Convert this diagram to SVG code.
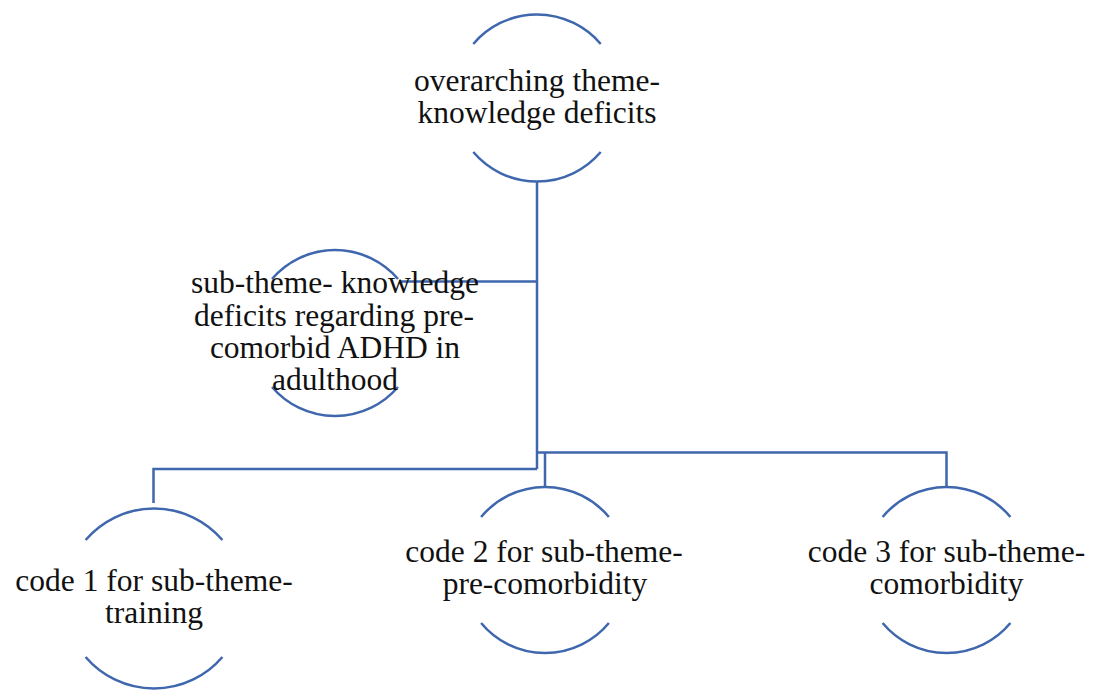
<svg xmlns="http://www.w3.org/2000/svg" width="1096" height="690" viewBox="0 0 1096 690">
  <style>
    .wire { fill: none; stroke: #3f67ad; stroke-width: 2.5; stroke-linecap: butt; stroke-linejoin: miter; }
    .ring { fill: none; stroke: #3f67ad; stroke-width: 2.5; stroke-linecap: butt; }
    .label { font-family: "Liberation Serif", "Times New Roman", serif; font-size: 31.5px; fill: #111111; text-anchor: middle; }
  </style>
  <rect width="1096" height="690" fill="#ffffff"/>

  <!-- connectors -->
  <g id="connectors">
    <!-- trunk from the overarching theme -->
    <path class="wire" d="M537,182 V469" stroke-width="3"/>
    <!-- branch to the sub-theme -->
    <path class="wire" d="M399,281.5 H537"/>
    <!-- branch to code 1 -->
    <path class="wire" d="M537,469 H153.5 V503"/>
    <!-- branch to codes 2 and 3 -->
    <path class="wire" d="M537,452.5 H946.5 V487"/>
    <path class="wire" d="M545,452.5 V487"/>
  </g>

  <!-- overarching theme -->
  <g id="node-overarching">
    <path class="ring" d="M473.3,44 A83.5,83.5 0 0 1 600.7,44"/>
    <path class="ring" d="M473.3,152 A83.5,83.5 0 0 0 600.7,152"/>
    <text class="label" x="537" y="91">overarching theme-</text>
    <text class="label" x="537" y="123">knowledge deficits</text>
  </g>

  <!-- sub-theme -->
  <g id="node-subtheme">
    <path class="ring" d="M272,279 A83,83 0 0 1 398,279"/>
    <path class="ring" d="M272,387 A83,83 0 0 0 398,387"/>
    <text class="label" x="335" y="293">sub-theme- knowledge</text>
    <text class="label" x="334" y="325.5">deficits regarding pre-</text>
    <text class="label" x="335" y="357.5">comorbid ADHD in</text>
    <text class="label" x="335" y="389.5">adulthood</text>
  </g>

  <!-- code 1 -->
  <g id="node-code1">
    <path class="ring" d="M85.6,540 A90,90 0 0 1 222.4,540"/>
    <path class="ring" d="M85.6,657 A90,90 0 0 0 222.4,657"/>
    <text class="label" x="154" y="590.5">code 1 for sub-theme-</text>
    <text class="label" x="154" y="623">training</text>
  </g>

  <!-- code 2 -->
  <g id="node-code2">
    <path class="ring" d="M481.1,517 A83,83 0 0 1 608.9,517"/>
    <path class="ring" d="M481.1,623 A83,83 0 0 0 608.9,623"/>
    <text class="label" x="544" y="562">code 2 for sub-theme-</text>
    <text class="label" x="545" y="594">pre-comorbidity</text>
  </g>

  <!-- code 3 -->
  <g id="node-code3">
    <path class="ring" d="M882.6,517 A83,83 0 0 1 1010.4,517"/>
    <path class="ring" d="M882.6,623 A83,83 0 0 0 1010.4,623"/>
    <text class="label" x="946.5" y="562">code 3 for sub-theme-</text>
    <text class="label" x="946.5" y="594">comorbidity</text>
  </g>
</svg>
